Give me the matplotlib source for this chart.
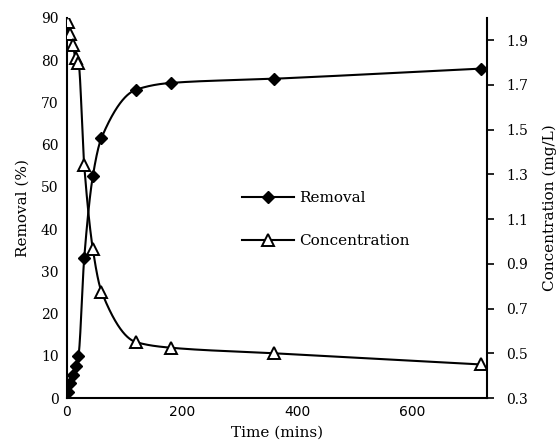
import numpy as np
import matplotlib
matplotlib.use("Agg")
import matplotlib.pyplot as plt
from matplotlib.lines import Line2D

time_min = [2, 5, 10, 15, 20, 30, 45, 60, 120, 180, 360, 720]
removal_pct = [1.5, 3.5, 5.5, 7.5, 10.0, 33.2, 52.6, 61.6, 73.0, 74.6, 75.6, 78.0]
concentration = [1.98, 1.93, 1.88, 1.82, 1.80, 1.34, 0.965, 0.776, 0.55, 0.525, 0.50, 0.45]

left_ticks = [0, 10, 20, 30, 40, 50, 60, 70, 80, 90]
right_ticks = [0.3, 0.5, 0.7, 0.9, 1.1, 1.3, 1.5, 1.7, 1.9]
x_ticks = [0, 200, 400, 600]


def pchip(x, y, xn):
    x = np.asarray(x, float); y = np.asarray(y, float)
    h = np.diff(x); d = np.diff(y) / h
    n = len(x); m = np.zeros(n)
    for k in range(1, n - 1):
        if d[k - 1] * d[k] > 0:
            w1 = 2 * h[k] + h[k - 1]; w2 = h[k] + 2 * h[k - 1]
            m[k] = (w1 + w2) / (w1 / d[k - 1] + w2 / d[k])
    m[0] = d[0]; m[-1] = d[-1]
    idx = np.clip(np.searchsorted(x, xn) - 1, 0, n - 2)
    t = (xn - x[idx]) / h[idx]
    h00 = 2 * t**3 - 3 * t**2 + 1; h10 = t**3 - 2 * t**2 + t
    h01 = -2 * t**3 + 3 * t**2; h11 = t**3 - t**2
    return h00 * y[idx] + h10 * h[idx] * m[idx] + h01 * y[idx + 1] + h11 * h[idx] * m[idx + 1]


serif = "DejaVu Serif"
LW = 1.5
fig = plt.figure(figsize=(5.6, 4.48), dpi=100)
ax = fig.add_axes([0.1196, 0.1116, 0.75, 0.8484])
ax2 = ax.twinx()

xs = np.linspace(min(time_min), max(time_min), 2000)
ax.plot(xs, pchip(time_min, removal_pct, xs), color="black", lw=LW, zorder=2)
ax.plot(time_min, removal_pct, ls="none", marker="D", ms=6.5, color="black", zorder=3)

ax2.plot(xs, pchip(time_min, concentration, xs), color="black", lw=LW, zorder=2)
ax2.plot(time_min, concentration, ls="none", marker="^", ms=9, mfc="white",
         mec="black", mew=1.4, zorder=3)

ax.set_xlim(0, 730)
ax.set_ylim(0, 90)
ax2.set_ylim(0.3, 2.0)

ax.set_xticks(x_ticks)
ax.set_xticklabels([str(v) for v in x_ticks], fontfamily="DejaVu Sans", fontsize=10)
ax.set_yticks(left_ticks)
ax.set_yticklabels([str(v) for v in left_ticks], fontfamily=serif, fontsize=10)
ax2.set_yticks(right_ticks)
ax2.set_yticklabels([f"{v:.1f}" for v in right_ticks], fontfamily=serif, fontsize=10)

ax.tick_params(axis="x", length=0, pad=5)
ax.tick_params(axis="y", length=0, pad=6)
ax2.tick_params(axis="y", direction="out", length=5, width=1.2, pad=9)

for a in (ax, ax2):
    a.spines["top"].set_visible(False)
    for s in ("left", "right", "bottom"):
        a.spines[s].set_linewidth(1.5)
ax.spines["right"].set_visible(False)
ax2.spines["left"].set_visible(False)
ax2.spines["bottom"].set_visible(False)

ax.set_xlabel("Time (mins)", fontfamily=serif, fontsize=11, labelpad=5)
ax.set_ylabel("Removal (%)", fontfamily=serif, fontsize=11, labelpad=8)
ax2.set_ylabel("Concentration (mg/L)", fontfamily=serif, fontsize=11, labelpad=10)

handles = [
    Line2D([], [], color="black", lw=LW, marker="D", ms=6.5),
    Line2D([], [], color="black", lw=LW, marker="^", ms=9, mfc="white", mew=1.4),
]
leg = ax2.legend(handles, ["Removal", "Concentration"], loc="upper left",
                 bbox_to_anchor=(0.385, 0.58), frameon=False, handlelength=3.4,
                 handletextpad=0.3, labelspacing=1.9, prop={"family": serif, "size": 11})
leg.set_zorder(10)

fig.savefig("out.png", dpi=100)
